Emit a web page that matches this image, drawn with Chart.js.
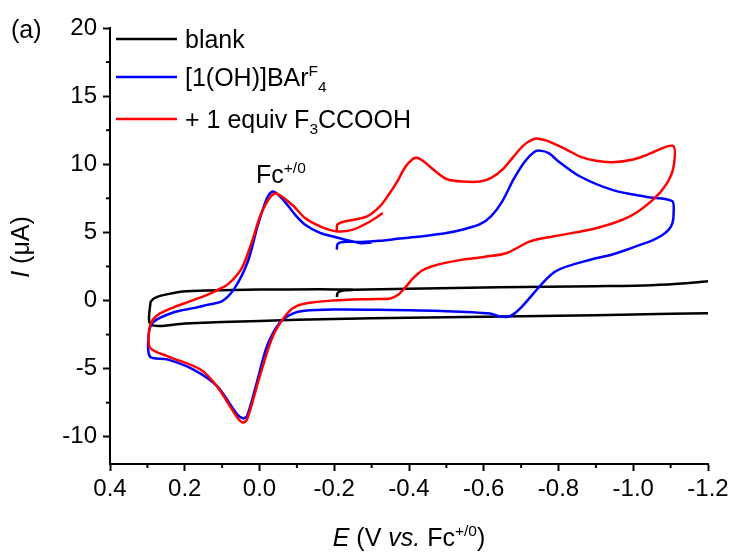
<!DOCTYPE html>
<html>
<head>
<meta charset="utf-8">
<script src="https://cdn.jsdelivr.net/npm/chart.js@4/dist/chart.umd.min.js"></script>
<style>
  html, body { margin: 0; padding: 0; background: #fff; }
  #wrap { width: 734px; height: 559px; }
</style>
</head>
<body>
<div id="wrap"><canvas id="cv" width="734" height="559"></canvas></div>
<script>
// potencial (V vs Fc) e corrente (uA) lidos do gráfico
// null na corrente separa os dois ramos do branco (sem ligação em -1.2 V)
const blankE = [-0.207,-0.209,-0.22,-0.25,-0.4,-0.64,-0.9,-1.05,-1.15,-1.2,
  -1.2,
  -1.2,-1.0,-0.8,-0.6,-0.4,-0.2,0.0,0.2,0.29,
  0.292,0.285,0.27,0.248,0.205,0.14,0.0,-0.16,-0.25];
const blankI = [0.25,0.55,0.72,0.78,0.86,0.97,1.05,1.12,1.28,1.42,
  null,
  -0.93,-1.03,-1.12,-1.2,-1.27,-1.35,-1.5,-1.68,-1.78,
  -0.2,0.1,0.3,0.45,0.66,0.74,0.8,0.82,0.8];

const ohE = [-0.207,-0.209,-0.225,-0.27,-0.32,-0.376,-0.43,-0.5,-0.55,-0.59,-0.62,-0.65,-0.68,-0.71,-0.735,-0.75,-0.775,-0.796,-0.858,-0.946,-1.037,-1.104,
  -1.108,-1.105,-1.095,-1.075,-1.05,-1.02,-0.99,-0.946,-0.88,-0.823,-0.79,-0.765,-0.745,-0.72,-0.697,-0.68,-0.665,-0.64,-0.617,-0.5,-0.322,-0.197,-0.12,-0.09,-0.055,-0.02,0.007,0.033,0.044,0.06,0.114,0.178,0.247,0.293,
  0.297,0.285,0.231,0.173,0.14,0.1,0.066,0.031,0.004,-0.02,-0.036,-0.06,-0.095,-0.122,-0.162,-0.197,-0.269,-0.3];
const ohI = [3.73,4.15,4.3,4.3,4.38,4.55,4.7,4.95,5.25,5.6,6.2,7.3,8.9,10.2,10.9,11.0,10.8,10.3,9.1,8.1,7.6,7.3,
  6.4,5.7,5.2,4.75,4.4,4.1,3.8,3.4,2.95,2.5,2.1,1.5,0.9,0.1,-0.6,-1.0,-1.2,-1.15,-0.95,-0.78,-0.68,-0.66,-0.75,-0.95,-1.6,-3.35,-6.0,-8.47,-8.65,-8.35,-6.27,-5.05,-4.32,-4.12,
  -2.6,-1.6,-0.88,-0.54,-0.32,-0.05,0.93,2.88,5.56,7.5,8.0,7.5,6.3,5.56,4.97,4.7,4.22,4.25];

const acidE = [-0.207,-0.208,-0.223,-0.288,-0.322,-0.344,-0.368,-0.39,-0.411,-0.421,-0.437,-0.47,-0.502,-0.544,-0.59,-0.62,-0.65,-0.678,-0.705,-0.73,-0.745,-0.77,-0.82,-0.858,-0.9,-0.946,-1.0,-1.037,-1.106,
  -1.108,-1.09,-1.053,-0.991,-0.903,-0.785,-0.724,-0.662,-0.6,-0.544,-0.5,-0.46,-0.435,-0.41,-0.39,-0.37,-0.35,-0.3,-0.25,-0.197,-0.14,-0.1,-0.074,-0.036,-0.001,0.033,0.044,0.06,0.114,0.159,0.247,0.293,
  0.295,0.285,0.266,0.23,0.19,0.15,0.114,0.084,0.047,0.02,-0.007,-0.041,-0.087,-0.122,-0.162,-0.207,-0.25,-0.296,-0.33];
const acidI = [5.05,5.56,5.76,6.17,6.9,7.7,8.7,9.8,10.4,10.47,10.25,9.5,8.9,8.73,8.73,9.0,9.6,10.5,11.35,11.8,11.88,11.72,11.1,10.56,10.25,10.15,10.35,10.69,11.35,
  9.83,8.6,7.4,6.17,5.32,4.7,4.34,3.49,3.2,3.0,2.78,2.5,2.2,1.6,0.95,0.4,0.15,0.1,0.08,0.0,-0.15,-0.4,-0.95,-2.6,-5.54,-8.71,-8.96,-8.57,-6.3,-5.05,-4.08,-3.46,
  -2.12,-1.39,-0.95,-0.5,-0.1,0.3,0.75,1.2,2.4,4.34,6.54,7.85,7.03,6.05,5.44,5.07,5.2,5.8,6.42];

const xTicks = [0.4, 0.2, 0.0, -0.2, -0.4, -0.6, -0.8, -1.0, -1.2];
const yTicks = [-10, -5, 0, 5, 10, 15, 20];
const xMinor = [0.3, 0.1, -0.1, -0.3, -0.5, -0.7, -0.9, -1.1];
const yMinor = [-7.5, -2.5, 2.5, 7.5, 12.5, 17.5];

const FONT = '"Liberation Sans", Arial, sans-serif';

function pts(E, I) {
    return E.map((e, i) => ({ x: e, y: I[i] }));
}

// desenha texto com trechos itálicos, sobrescritos e subscritos
function drawRuns(ctx, runs, x, y, size, align) {
    const fontOf = r => {
        const sz = (r.sup || r.sub) ? size * 0.62 : size;
        return (r.it ? 'italic ' : '') + sz + 'px ' + FONT;
    };
    let total = 0;
    runs.forEach(r => { ctx.font = fontOf(r); total += ctx.measureText(r.t).width; });
    let cx = align === 'center' ? x - total / 2 : x;
    ctx.textAlign = 'left';
    ctx.textBaseline = 'alphabetic';
    runs.forEach(r => {
        ctx.font = fontOf(r);
        let dy = 0;
        if (r.sup) dy = -size * 0.4;
        if (r.sub) dy = size * 0.24;
        ctx.fillText(r.t, cx, y + dy);
        cx += ctx.measureText(r.t).width;
    });
}

const legendItems = [
    { color: '#000000', y: 39, runs: [{ t: 'blank' }] },
    { color: '#0000ff', y: 77, runs: [{ t: '[1(OH)]BAr' }, { t: 'F', sup: true }, { t: '4', sub: true }] },
    { color: '#ff0000', y: 119, runs: [{ t: '+ 1 equiv F' }, { t: '3', sub: true }, { t: 'CCOOH' }] }
];

const extras = {
    id: 'extras',
    afterDraw(chart) {
        const ctx = chart.ctx;
        const xs = chart.scales.x, ys = chart.scales.y;
        const area = chart.chartArea;
        ctx.save();
        ctx.strokeStyle = '#000';
        ctx.fillStyle = '#000';
        ctx.lineWidth = 2;
        // ticks menores
        xMinor.forEach(v => {
            const px = xs.getPixelForValue(v);
            ctx.beginPath(); ctx.moveTo(px, area.bottom); ctx.lineTo(px, area.bottom + 4); ctx.stroke();
        });
        yMinor.forEach(v => {
            const py = ys.getPixelForValue(v);
            ctx.beginPath(); ctx.moveTo(area.left, py); ctx.lineTo(area.left - 4, py); ctx.stroke();
        });
        // legenda
        legendItems.forEach(it => {
            ctx.strokeStyle = it.color;
            ctx.lineWidth = 2.5;
            ctx.beginPath(); ctx.moveTo(116, it.y); ctx.lineTo(177, it.y); ctx.stroke();
            drawRuns(ctx, it.runs, 185, it.y + 9, 25);
        });
        // rótulos
        drawRuns(ctx, [{ t: '(a)' }], 11, 38, 25);
        drawRuns(ctx, [{ t: 'Fc' }, { t: '+/0', sup: true }], 256, 183, 25);
        drawRuns(ctx, [{ t: 'E', it: true }, { t: ' (V ' }, { t: 'vs.', it: true }, { t: ' Fc' }, { t: '+/0', sup: true }, { t: ')' }],
            (area.left + area.right) / 2, 546, 25, 'center');
        ctx.translate(29, 247);
        ctx.rotate(-Math.PI / 2);
        drawRuns(ctx, [{ t: 'I', it: true }, { t: ' (\u03bcA)' }], 0, 0, 25, 'center');
        ctx.restore();
    }
};

const lineDs = (label, data, color, order) => ({
    label: label,
    data: data,
    showLine: true,
    spanGaps: false,
    borderColor: color,
    borderWidth: 2.5,
    pointRadius: 0,
    tension: 0.3,
    fill: false,
    order: order
});

new Chart(document.getElementById('cv'), {
    type: 'scatter',
    data: {
        datasets: [
            lineDs('blank', pts(blankE, blankI), '#000000', 3),
            lineDs('[1(OH)]BArF4', pts(ohE, ohI), '#0000ff', 2),
            lineDs('+ 1 equiv F3CCOOH', pts(acidE, acidI), '#ff0000', 1)
        ]
    },
    options: {
        responsive: false,
        animation: false,
        layout: { padding: { left: 0, top: 28, right: 26, bottom: 0 } },
        plugins: { legend: { display: false }, tooltip: { enabled: false } },
        scales: {
            x: {
                type: 'linear',
                reverse: true,
                min: -1.2, max: 0.4,
                afterBuildTicks: s => { s.ticks = xTicks.map(v => ({ value: v })); },
                afterFit: s => { s.height = 95; },
                border: { display: true, color: '#000', width: 2 },
                grid: { drawOnChartArea: false, tickLength: 7, tickColor: '#000', tickWidth: 2 },
                ticks: {
                    color: '#000', padding: 4,
                    font: { size: 24, family: FONT },
                    callback: v => v.toFixed(1)
                }
            },
            y: {
                type: 'linear',
                min: -12, max: 20,
                afterBuildTicks: s => { s.ticks = yTicks.map(v => ({ value: v })); },
                afterFit: s => { s.width = 110; },
                border: { display: true, color: '#000', width: 2 },
                grid: { drawOnChartArea: false, tickLength: 7, tickColor: '#000', tickWidth: 2 },
                ticks: {
                    color: '#000', padding: 6,
                    font: { size: 24, family: FONT },
                    callback: v => String(v)
                }
            }
        }
    },
    plugins: [extras]
});
</script>
</body>
</html>
